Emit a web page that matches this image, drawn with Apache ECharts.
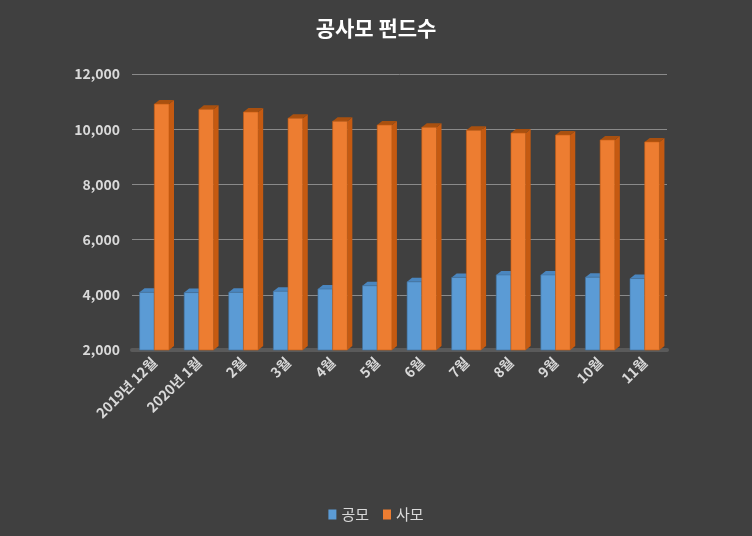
<!DOCTYPE html>
<html>
<head>
<meta charset="utf-8">
<script src="https://cdn.jsdelivr.net/npm/echarts@6/dist/echarts.min.js"></script>
<style>
html,body{margin:0;padding:0;background:#404040;}
#chart{width:752px;height:536px;}
</style>
</head>
<body>
<div id="chart"></div>
<script>
var categories = ['2019년 12월','2020년 1월','2월','3월','4월','5월','6월','7월','8월','9월','10월','11월'];
var publicFunds = [4090, 4080, 4090, 4130, 4210, 4330, 4470, 4630, 4720, 4720, 4640, 4590];
var privateFunds = [10910, 10720, 10620, 10400, 10290, 10150, 10070, 9960, 9860, 9790, 9610, 9540];
var seriesNames = ['공모', '사모'];
var yTicks = {min: 2000, max: 12000, interval: 2000};

var FONT = '"Noto Sans CJK KR", "Noto Sans", sans-serif';
var palette = [
  {front: '#5B9BD5', side: '#41719C', top: '#4A86BF'},
  {front: '#ED7D31', side: '#C55A11', top: '#A9500F'}
];

function renderItem(params, api) {
  var ci = api.value(0), v = api.value(1);
  var topPt = api.coord([ci, v]);
  var basePt = api.coord([ci, yTicks.min]);
  var band = api.size([1, 0])[0];
  var w = band * 0.33;
  var si = params.seriesIndex;
  var x0 = si === 0 ? topPt[0] - w : topPt[0];
  var yT = topPt[1], yB = basePt[1];
  var d = 5, dy = 4;
  var c = palette[si];
  return {
    type: 'group',
    children: [
      {type: 'polygon', shape: {points: [[x0 + w, yT], [x0 + w + d, yT - dy], [x0 + w + d, yB - dy], [x0 + w, yB]]},
       style: {fill: c.side}},
      {type: 'polygon', shape: {points: [[x0, yT], [x0 + d, yT - dy], [x0 + w + d, yT - dy], [x0 + w, yT]]},
       style: {fill: c.top}},
      {type: 'rect', shape: {x: x0, y: yT, width: w, height: yB - yT},
       style: {fill: c.front, stroke: c.side, lineWidth: 0.6}}
    ]
  };
}

function toData(arr) { return arr.map(function (v, i) { return [i, v]; }); }

var chart = echarts.init(document.getElementById('chart'));
chart.setOption({
  backgroundColor: '#404040',
  animation: false,
  title: {
    text: '공사모 펀드수', left: 'center', top: 13,
    textStyle: {color: '#ffffff', fontFamily: FONT, fontSize: 21, fontWeight: 'bold'}
  },
  legend: {
    bottom: 9, left: 'center', icon: 'rect', itemWidth: 8, itemHeight: 10, itemGap: 14,
    textStyle: {color: '#d9d9d9', fontFamily: FONT, fontSize: 15},
    data: seriesNames
  },
  grid: {left: 132, right: 85, top: 74, bottom: 186},
  xAxis: {
    type: 'category', data: categories,
    axisLine: {show: true, lineStyle: {color: '#5a5a5a', width: 4}},
    axisTick: {show: false},
    axisLabel: {rotate: 45, color: '#d9d9d9', fontFamily: FONT, fontSize: 14, fontWeight: 'bold', margin: 10, interval: 0}
  },
  yAxis: {
    type: 'value', min: yTicks.min, max: yTicks.max, interval: yTicks.interval,
    axisLine: {show: false}, axisTick: {show: false},
    splitLine: {lineStyle: {color: '#8a8a8a', width: 1}},
    axisLabel: {
      color: '#d9d9d9', fontFamily: FONT, fontSize: 14, fontWeight: 'bold', margin: 12,
      formatter: function (v) { return v.toLocaleString('en-US'); }
    }
  },
  series: [
    {name: seriesNames[0], type: 'custom', renderItem: renderItem, data: toData(publicFunds),
     encode: {x: 0, y: 1}, itemStyle: {color: palette[0].front}},
    {name: seriesNames[1], type: 'custom', renderItem: renderItem, data: toData(privateFunds),
     encode: {x: 0, y: 1}, itemStyle: {color: palette[1].front}}
  ]
});
</script>
</body>
</html>
